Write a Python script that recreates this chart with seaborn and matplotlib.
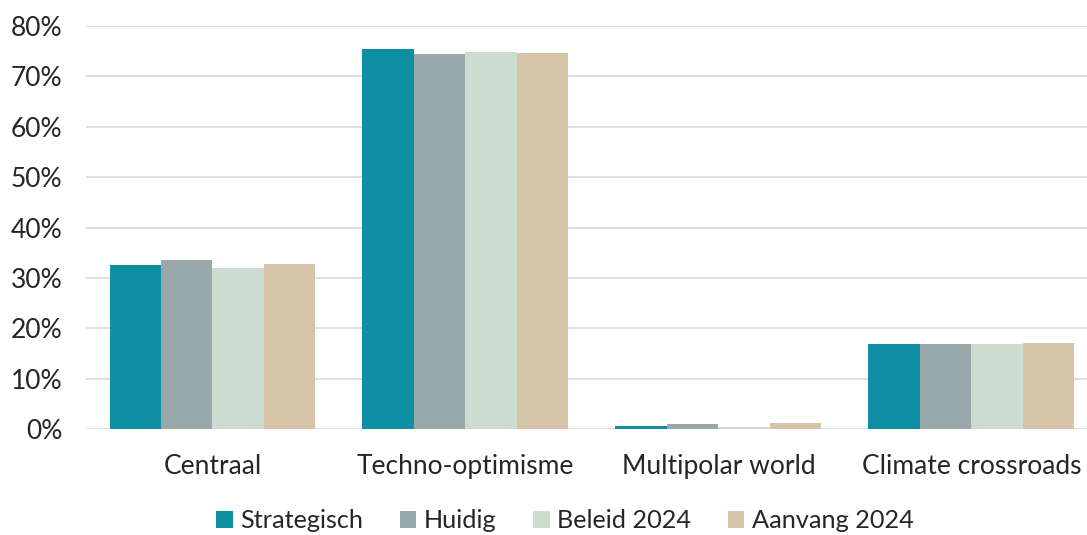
import matplotlib
matplotlib.use("Agg")
import matplotlib.pyplot as plt
import seaborn as sns
import pandas as pd
from matplotlib.ticker import PercentFormatter
from matplotlib.patches import Patch

categories = ["Centraal", "Techno-optimisme", "Multipolar world", "Climate crossroads"]
series = ["Strategisch", "Huidig", "Beleid 2024", "Aanvang 2024"]
strategisch = [0.325, 0.755, 0.006, 0.168]
huidig = [0.335, 0.745, 0.009, 0.168]
beleid_2024 = [0.319, 0.749, 0.003, 0.168]
aanvang_2024 = [0.327, 0.747, 0.012, 0.171]
colors = ["#0f8fa3", "#98a8ab", "#ccdcd1", "#d5c4a8"]

values = [strategisch, huidig, beleid_2024, aanvang_2024]
rows = []
for s, vals in zip(series, values):
    for c, v in zip(categories, vals):
        rows.append({"cat": c, "series": s, "value": v})
df = pd.DataFrame(rows)

sns.set_theme(style="white")
plt.rcParams["font.family"] = ["Lato", "DejaVu Sans"]

fig = plt.figure(figsize=(10.87, 5.35), dpi=100)
ax = fig.add_axes([86/1087, 1 - 429/535, 1001/1087, (429 - 26)/535])

sns.barplot(data=df, x="cat", y="value", hue="series", order=categories,
            hue_order=series, palette=colors, width=0.814, saturation=1,
            linewidth=0, ax=ax, legend=False)

ax.set_ylim(0, 0.8)
ax.set_xlim(-0.5, 3.457)
ax.set_yticks([i / 10 for i in range(9)])
ax.yaxis.set_major_formatter(PercentFormatter(1.0, decimals=0))
ax.grid(axis="y", color="#d9d9d9", linewidth=1.2)
ax.set_axisbelow(True)
for sp in ax.spines.values():
    sp.set_visible(False)
ax.tick_params(axis="both", length=0, labelsize=19, colors="#262626")
ax.tick_params(axis="x", pad=18)
ax.tick_params(axis="y", pad=17)
ax.set_xlabel("")
ax.set_ylabel("")

handles = [Patch(facecolor=c, edgecolor="none") for c in colors]
fig.legend(handles, series, loc="center", bbox_to_anchor=(565/1087, 1 - 521/535),
           ncol=4, frameon=False, fontsize=18.2, handlelength=0.65, handleheight=0.65,
           handletextpad=0.3, columnspacing=1.45, labelcolor="#262626")

fig.savefig("out.png", dpi=100)
